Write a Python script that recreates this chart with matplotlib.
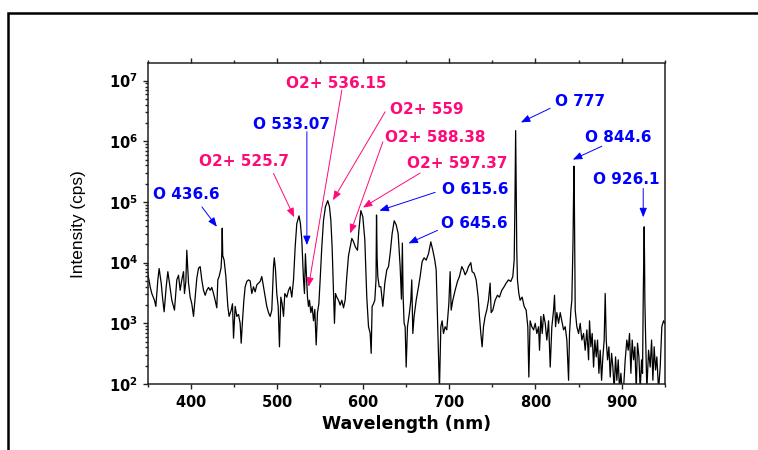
import numpy as np
import matplotlib
matplotlib.use("Agg")
import matplotlib.pyplot as plt
from matplotlib.ticker import MultipleLocator, LogLocator, FuncFormatter, NullFormatter
from matplotlib.patches import Rectangle

# Emission spectrum of the oxygen plasma
wavelength_nm = [
    350.3, 353.0, 354.9, 358.0, 359.6, 361.9, 363.4, 365.8, 367.3, 369.2,
    371.6, 373.5, 375.4, 378.1, 381.2, 383.9, 385.9, 387.8, 389.7, 391.7,
    392.8, 394.4, 395.5, 397.5, 399.4, 401.3, 403.3, 405.2, 407.1, 409.1,
    411.0, 412.9, 414.9, 416.8, 418.7, 420.7, 422.6, 424.5, 426.5, 428.4,
    430.3, 431.5, 433.0, 435.2, 436.0, 436.6, 437.2, 438.8, 440.8, 443.1,
    444.6, 447.0, 448.5, 449.7, 451.6, 453.5, 455.5, 457.4, 458.6, 460.1,
    461.7, 463.2, 465.1, 467.1, 469.0, 470.9, 472.9, 474.8, 476.7, 478.7,
    480.6, 482.5, 484.5, 486.4, 488.3, 490.3, 492.2, 494.1, 496.1, 497.0,
    498.4, 499.9, 501.5, 503.0, 504.6, 506.1, 507.7, 509.2, 511.5, 513.5,
    515.4, 517.3, 519.3, 521.2, 523.1, 525.7, 527.3, 528.9, 530.9, 532.0,
    533.1, 534.3, 535.5, 536.7, 537.8, 539.4, 540.9, 542.5, 544.0, 545.6,
    547.1, 548.7, 550.2, 552.1, 554.1, 556.4, 559.0, 561.0, 562.6, 564.1,
    565.7, 566.8, 568.0, 569.5, 571.5, 573.4, 575.3, 577.3, 579.2, 581.1,
    583.1, 585.0, 586.9, 588.4, 591.2, 593.5, 595.1, 597.4, 599.7, 602.0,
    604.3, 606.3, 608.2, 609.4, 610.5, 612.1, 613.6, 615.0, 615.6, 616.3,
    617.1, 618.7, 620.6, 622.9, 625.2, 627.5, 629.5, 631.4, 633.7, 636.1,
    638.4, 640.7, 643.0, 644.5, 645.6, 646.4, 647.6, 648.8, 650.0, 651.5,
    653.8, 655.4, 656.5, 657.7, 659.2, 661.6, 664.3, 666.2, 668.5, 670.8,
    673.2, 675.9, 678.6, 680.9, 683.2, 684.8, 686.3, 687.5, 688.6, 690.2,
    691.7, 693.3, 695.2, 697.1, 699.5, 701.0, 702.2, 704.1, 706.8, 709.5,
    711.8, 714.5, 716.5, 718.4, 720.3, 722.3, 725.0, 726.5, 728.8, 731.2,
    733.5, 735.0, 736.6, 738.1, 739.7, 741.6, 743.5, 745.5, 747.4, 748.6,
    750.5, 753.2, 755.9, 758.2, 760.9, 763.6, 766.0, 768.7, 771.4, 773.7,
    775.3, 776.2, 776.7, 777.0, 777.3, 777.8, 778.3, 779.1, 780.7, 782.2,
    784.5, 786.9, 789.2, 791.1, 792.3, 793.8, 795.8, 797.8, 799.7, 801.6,
    803.6, 804.7, 806.3, 807.8, 809.4, 811.3, 813.2, 815.2, 817.1, 819.0,
    821.0, 822.1, 823.3, 824.8, 826.8, 828.7, 830.6, 832.6, 834.5, 836.4,
    838.4, 839.5, 841.1, 842.2, 843.5, 844.1, 844.6, 845.1, 845.6, 846.1,
    848.0, 850.0, 851.9, 853.8, 855.8, 857.7, 859.6, 861.6, 862.7, 864.3,
    865.8, 867.4, 868.9, 870.5, 872.0, 873.6, 875.1, 876.7, 878.2, 879.7,
    880.9, 882.1, 883.6, 885.2, 886.7, 888.3, 889.8, 891.3, 892.9, 894.4,
    896.0, 897.5, 899.1, 900.6, 902.2, 904.1, 906.0, 907.6, 909.1, 910.7,
    912.2, 913.8, 915.3, 916.9, 918.4, 920.0, 921.5, 923.1, 924.2, 925.0,
    925.6, 926.1, 926.6, 926.9, 927.7, 929.2, 931.2, 933.1, 934.7, 936.2,
    937.7, 939.3, 940.8, 942.8, 944.7, 946.6, 948.6, 950.0,
]

intensity_cps = [
    6.6e3, 4.0e3, 3.1e3, 2.4e3, 1.9e3, 5.2e3, 8.0e3, 4.6e3, 2.7e3, 1.55e3,
    4.0e3, 7.1e3, 4.6e3, 2.4e3, 1.65e3, 5.2e3, 6.2e3, 3.5e3, 5.2e3, 7.1e3,
    3.1e3, 4.9e3, 1.6e4, 4.6e3, 2.7e3, 2.1e3, 1.3e3, 2.7e3, 5.5e3, 8.1e3,
    8.6e3, 5.2e3, 3.5e3, 2.9e3, 3.5e3, 3.9e3, 3.5e3, 3.9e3, 3.1e3, 2.4e3,
    1.8e3, 5.2e3, 5.9e3, 8.1e3, 1.3e4, 3.7e4, 1.3e4, 1.1e4, 5.9e3, 1.9e3,
    1.3e3, 1.65e3, 2.1e3, 570, 1.9e3, 1.3e3, 1.4e3, 1.0e3, 470, 1.1e3,
    2.4e3, 4.0e3, 4.9e3, 5.2e3, 5.0e3, 3.1e3, 4.0e3, 3.3e3, 4.3e3, 4.6e3,
    4.9e3, 5.9e3, 4.0e3, 2.7e3, 1.9e3, 1.5e3, 1.3e3, 1.65e3, 8.6e3, 1.2e4,
    7.6e3, 3.1e3, 1.9e3, 410, 2.7e3, 2.1e3, 1.3e3, 3.1e3, 2.7e3, 3.5e3,
    4.0e3, 2.7e3, 5.2e3, 1.8e4, 4.4e4, 5.9e4, 4.4e4, 2.4e4, 5.2e3, 3.1e3,
    1.4e4, 5.9e3, 2.7e3, 1.9e3, 2.4e3, 1.5e3, 1.9e3, 1.1e3, 1.7e3, 440,
    1.5e3, 2.1e3, 5.2e3, 1.8e4, 5.0e4, 8.4e4, 1.05e5, 8.4e4, 5.0e4, 1.8e4,
    3.1e3, 1.0e3, 3.1e3, 2.7e3, 2.4e3, 2.0e3, 2.4e3, 1.8e3, 2.4e3, 5.9e3,
    1.3e4, 1.8e4, 2.5e4, 2.3e4, 1.8e4, 1.6e4, 3.4e4, 7.2e4, 5.7e4, 2.4e4,
    2.7e3, 880, 690, 320, 1.9e3, 2.1e3, 2.4e3, 5.2e3, 6.1e4, 1.2e4,
    5.9e3, 4.0e3, 4.0e3, 1.9e3, 4.6e3, 7.6e3, 8.6e3, 1.4e4, 3.0e4, 4.9e4,
    4.2e4, 3.0e4, 8.6e3, 2.5e3, 2.1e4, 3.0e3, 1.0e3, 880, 190, 880,
    1.5e3, 2.4e3, 5.2e3, 680, 1.3e3, 2.4e3, 4.0e3, 5.9e3, 1.04e4, 1.2e4,
    1.1e4, 1.4e4, 2.2e4, 1.6e4, 1.1e4, 7.6e3, 1.3e3, 360, 80, 880,
    1.1e3, 680, 880, 780, 2.1e3, 7.1e3, 1.65e3, 2.4e3, 3.5e3, 4.9e3,
    5.9e3, 8.6e3, 7.6e3, 6.3e3, 7.1e3, 8.6e3, 1.0e4, 7.1e3, 6.7e3, 5.2e3,
    2.7e3, 1.3e3, 680, 410, 880, 1.3e3, 1.65e3, 2.4e3, 4.6e3, 1.5e3,
    1.65e3, 2.4e3, 2.9e3, 2.7e3, 3.5e3, 4.0e3, 4.6e3, 5.2e3, 4.9e3, 5.9e3,
    1.1e4, 1.0e5, 6.0e5, 1.5e6, 6.0e5, 1.0e5, 1.6e4, 5.2e3, 3.1e3, 2.4e3,
    2.7e3, 1.9e3, 1.65e3, 880, 130, 1.1e3, 880, 780, 1.0e3, 680,
    880, 360, 1.3e3, 680, 1.4e3, 1.0e3, 530, 1.1e3, 190, 880,
    1.65e3, 2.9e3, 880, 1.5e3, 1.0e3, 1.5e3, 1.1e3, 780, 880, 530,
    115, 680, 1.65e3, 2.4e3, 2.0e4, 1.2e5, 3.9e5, 1.2e5, 1.5e4, 1.65e3,
    880, 680, 1.0e3, 530, 680, 360, 780, 250, 1.1e3, 410,
    680, 190, 530, 280, 530, 150, 360, 115, 280, 530,
    3.1e3, 530, 250, 410, 130, 320, 190, 80, 280, 115,
    250, 80, 150, 80, 85, 250, 530, 360, 680, 150,
    530, 250, 410, 80, 470, 280, 80, 250, 150, 2.4e3,
    1.0e4, 3.9e4, 1.0e4, 2.4e3, 680, 80, 360, 190, 530, 115,
    410, 170, 280, 80, 190, 880, 1.1e3, 1.0e3,
]

# Line assignments: text, colour, text centre, arrow tail, arrow head
BLUE = "#0000FF"
PINK = "#FF0A78"
line_labels = [
    ("O 436.6",     BLUE, (395.4, 1.4e5), (413.0, 8.3e4), (430.4, 3.9e4)),
    ("O2+ 525.7",   PINK, (462.1, 4.9e5), (496.1, 2.96e5), (520.1, 5.6e4)),
    ("O 533.07",    BLUE, (516.6, 1.97e6), (534.8, 1.44e6), (534.8, 1.95e4)),
    ("O2+ 536.15",  PINK, (568.4, 9.5e6), (575.4, 7.0e6), (536.7, 4.0e3)),
    ("O2+ 559",     PINK, (673.8, 3.5e6), (625.6, 3.06e6), (565.0, 1.07e5)),
    ("O2+ 588.38",  PINK, (683.2, 1.22e6), (623.0, 9.8e5), (585.0, 3.04e4)),
    ("O2+ 597.37",  PINK, (709.5, 4.5e5), (666.2, 3.0e5), (599.8, 8.1e4)),
    ("O 615.6",     BLUE, (730.6, 1.67e5), (683.6, 1.44e5), (619.0, 7.2e4)),
    ("O 645.6",     BLUE, (729.5, 4.7e4), (686.3, 3.4e4), (652.7, 2.08e4)),
    ("O 777",       BLUE, (851.9, 4.8e6), (817.1, 3.5e6), (783.1, 2.05e6)),
    ("O 844.6",     BLUE, (895.7, 1.22e6), (877.0, 8.3e5), (843.4, 5.0e5)),
    ("O 926.1",     BLUE, (905.6, 2.5e5), (925.0, 1.67e5), (925.0, 5.6e4)),
]

plt.rcParams["font.family"] = ["DejaVu Sans"]
plt.rcParams["mathtext.fontset"] = "dejavusans"

fig = plt.figure(figsize=(7.58, 4.5), dpi=100)

# thin black frame around the figure
fig.patches.append(Rectangle((0.0105, -0.05), 1.1, 1.0205, transform=fig.transFigure,
                             fill=False, edgecolor="black", linewidth=1.8, zorder=0))

ax = fig.add_axes([0.1947, 0.1467, 0.877 - 0.1947, 0.859 - 0.1467])
ax.plot(wavelength_nm, intensity_cps, color="black", lw=0.9)

ax.set_yscale("log")
ax.set_xlim(350, 950)
ax.set_ylim(1e2, 1.92e7)

ax.xaxis.set_major_locator(MultipleLocator(100))
ax.xaxis.set_minor_locator(MultipleLocator(50))
ax.xaxis.set_major_formatter(FuncFormatter(lambda v, p: r"$\mathbf{%d}$" % v))
ax.yaxis.set_major_locator(LogLocator(base=10, numticks=20))
ax.yaxis.set_minor_locator(LogLocator(base=10, subs=range(2, 10), numticks=20))
ax.yaxis.set_minor_formatter(NullFormatter())
ax.yaxis.set_major_formatter(
    FuncFormatter(lambda v, p: r"$\mathbf{10^{%d}}$" % int(round(np.log10(v)))))

ax.tick_params(which="both", direction="out", top=True, width=1.0, color="#222222")
ax.tick_params(which="major", length=3.6, pad=3.5, labelsize=10.5)
ax.tick_params(which="minor", length=2.2)
for s in ax.spines.values():
    s.set_linewidth(1.1)
    s.set_color("#222222")

ax.set_xlabel("Wavelength (nm)", fontsize=12.5, fontweight="bold", labelpad=4)
ax.set_ylabel("Intensity (cps)", fontsize=12.4, family="Liberation Sans",
              fontweight="normal", labelpad=16)

for text, col, (tx, ty), tail, head in line_labels:
    ax.text(tx, ty, text, color=col, fontsize=11, fontweight="bold",
            ha="center", va="center_baseline")
    ax.annotate("", xy=head, xytext=tail,
                arrowprops=dict(arrowstyle="-|>,head_length=0.55,head_width=0.22",
                                color=col, lw=0.7, shrinkA=0, shrinkB=0,
                                mutation_scale=10))

fig.savefig("out.png", dpi=100)
